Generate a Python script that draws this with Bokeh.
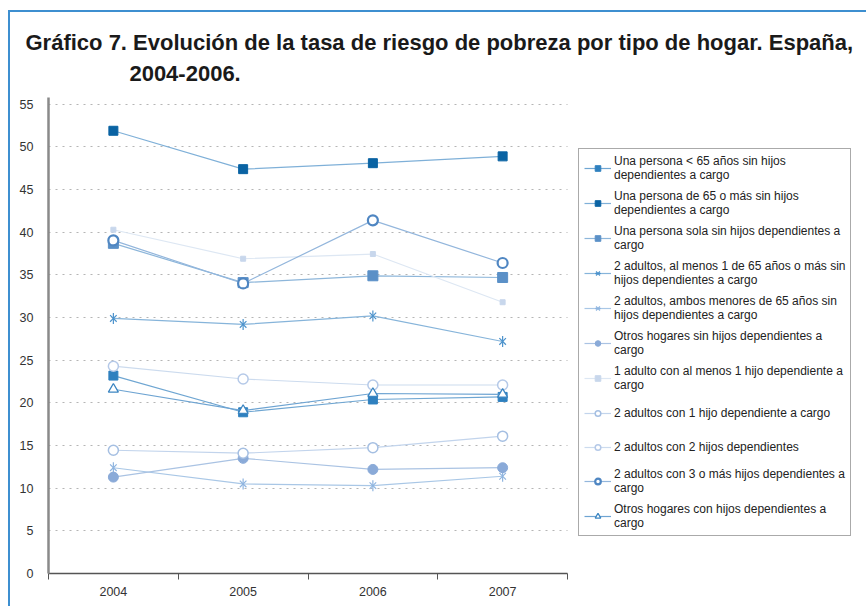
import math
from bokeh.plotting import figure
from bokeh.models import (Range1d, FixedTicker, Legend, LegendItem, Title)
from bokeh.embed import file_html
from bokeh.resources import INLINE

years = ["2004", "2005", "2006", "2007"]
y_ticks = list(range(0, 56, 5))

title_line1 = "Gráfico 7. Evolución de la tasa de riesgo de pobreza por tipo de hogar. España,"
title_line2 = "2004-2006."

labels = [
    "Una persona < 65 años sin hijos\ndependientes a cargo",
    "Una persona de 65 o más sin hijos\ndependientes a cargo",
    "Una persona sola sin hijos dependientes a\ncargo",
    "2 adultos, al menos 1 de 65 años o más sin\nhijos dependientes a cargo",
    "2 adultos, ambos menores de 65 años sin\nhijos dependientes a cargo",
    "Otros hogares sin hijos dependientes a\ncargo",
    "1 adulto con al menos 1 hijo dependiente a\ncargo",
    "2 adultos con 1 hijo dependiente a cargo",
    "2 adultos con 2 hijos dependientes",
    "2 adultos con 3 o más hijos dependientes a\ncargo",
    "Otros hogares con hijos dependientes a\ncargo",
]

una_menor65 = [23.2, 18.9, 20.4, 20.7]
una_65mas = [51.9, 47.4, 48.1, 48.9]
una_sola = [38.7, 34.1, 34.9, 34.7]
dos_ad_65 = [29.9, 29.2, 30.2, 27.2]
dos_ad_men65 = [12.4, 10.5, 10.3, 11.4]
otros_sin = [11.3, 13.5, 12.2, 12.4]
un_ad_hijo = [40.3, 36.9, 37.45, 31.8]
dos_ad_1h = [14.45, 14.1, 14.75, 16.1]
dos_ad_2h = [24.3, 22.8, 22.1, 22.1]
dos_ad_3h = [39.05, 34.0, 41.4, 36.4]
otros_con = [21.6, 19.1, 21.1, 21.0]

series = [una_menor65, una_65mas, una_sola, dos_ad_65, dos_ad_men65, otros_sin,
          un_ad_hijo, dos_ad_1h, dos_ad_2h, dos_ad_3h, otros_con]

# styles: marker, marker color, filled, size, marker line width, line color
styles = [
    ("square", "#2f80bf", True, 9, 1, "#6fa6d2"),
    ("square", "#0a63a3", True, 9, 1, "#7fb0d8"),
    ("square", "#5b90c7", True, 10, 1, "#8db6da"),
    ("star6", "#4d93cc", False, 11, 1.2, "#86b4da"),
    ("star6", "#8fb5e0", False, 11, 1.2, "#a9c7e6"),
    ("circle", "#8aaad8", True, 10, 1, "#aac3e3"),
    ("square", "#c8d7ec", True, 5, 1, "#dde7f3"),
    ("circle", "#a5bfe2", False, 10, 1.5, "#c2d4ec"),
    ("circle", "#b5c9e8", False, 10, 1.5, "#ccdbee"),
    ("circle", "#4f86c2", False, 10, 2.2, "#93b6dc"),
    ("triangle", "#3c86c2", False, 10, 1.3, "#6ea4d2"),
]

xs = [i + 0.5 for i in range(len(years))]
n_cat = len(years)

W, H = 858, 596
LEFT, TOP, BOTTOM = 38, 85, 35
cat_px = 519 / n_cat
x_end = (W - LEFT) / cat_px

p = figure(width=W, height=H, output_backend="svg", toolbar_location=None, title=None,
           x_range=Range1d(0, x_end), y_range=Range1d(0, 55.8),
           min_border_left=LEFT, min_border_right=0, min_border_top=TOP,
           min_border_bottom=BOTTOM)
p.styles = {"margin-left": "8px", "margin-top": "10px",
            "border-top": "2px solid #3d8fd0", "border-left": "2px solid #3d8fd0"}
p.outline_line_color = None
p.background_fill_color = "white"
p.border_fill_color = "white"
p.xgrid.grid_line_color = None
p.ygrid.ticker = FixedTicker(ticks=y_ticks)
p.ygrid.grid_line_color = "#b5b5b5"
p.ygrid.grid_line_dash = "2 5"
p.ygrid.grid_line_width = 1
p.ygrid.cross_bounds = (0, n_cat)

p.yaxis.ticker = FixedTicker(ticks=y_ticks)
p.yaxis.axis_line_color = "#8a8a8a"
p.yaxis.axis_line_width = 2.5
p.yaxis.major_tick_line_color = None
p.yaxis.minor_tick_line_color = None
p.yaxis.major_label_standoff = 9
p.yaxis.major_label_text_font = "Liberation Sans"
p.yaxis.major_label_text_font_size = "12.5px"
p.yaxis.major_label_text_color = "#333333"

p.xaxis.bounds = (0, n_cat)
p.xaxis.ticker = FixedTicker(ticks=xs, minor_ticks=list(range(n_cat + 1)))
p.xaxis.major_label_overrides = {x: y for x, y in zip(xs, years)}
p.xaxis.axis_line_color = "#555555"
p.xaxis.axis_line_width = 1.5
p.xaxis.major_tick_line_color = None
p.xaxis.minor_tick_line_color = "#555555"
p.xaxis.minor_tick_out = 6
p.xaxis.minor_tick_in = 0
p.xaxis.major_label_standoff = 7
p.xaxis.major_label_text_font = "Liberation Sans"
p.xaxis.major_label_text_font_size = "12.5px"
p.xaxis.major_label_text_color = "#333333"

items = []
for lab, vals, st in zip(labels, series, styles):
    marker, mcol, filled, size, mlw, lcol = st
    lr = p.line(xs, vals, line_color=lcol, line_width=1.2)
    rends = [lr]
    if marker == "star6":
        rends.append(p.scatter(xs, vals, marker="x", size=size * 0.85, line_color=mcol,
                               line_width=mlw))
        rends.append(p.scatter(xs, vals, marker="dash", angle=math.pi / 2, size=size,
                               line_color=mcol, line_width=mlw))
    else:
        rends.append(p.scatter(xs, vals, marker=marker, size=size, line_color=mcol,
                               line_width=mlw, fill_color=mcol if filled else "white"))
    items.append(LegendItem(label=lab, renderers=rends))

legend = Legend(items=items, location=(530, 37), orientation="vertical")
legend.label_text_font = "Liberation Sans"
legend.label_text_font_size = "12px"
legend.label_text_color = "#222222"
legend.label_text_line_height = 1.15
legend.border_line_color = "#555555"
legend.border_line_width = 1.5
legend.background_fill_alpha = 1
legend.glyph_width = 27
legend.glyph_height = 14
legend.label_height = 27
legend.label_standoff = 3
legend.spacing = 7
legend.padding = 5
legend.margin = 0
p.add_layout(legend)

p.add_layout(Title(text=title_line1 + "\n" + "\u00a0" * 17 + title_line2, offset=-23,
                   text_font="Liberation Sans", text_font_style="bold",
                   text_font_size="22px", text_color="#1a1a1a", text_line_height=1.24,
                   vertical_align="top", standoff=19), "above")

open("out.html", "w").write(file_html(p, INLINE))
